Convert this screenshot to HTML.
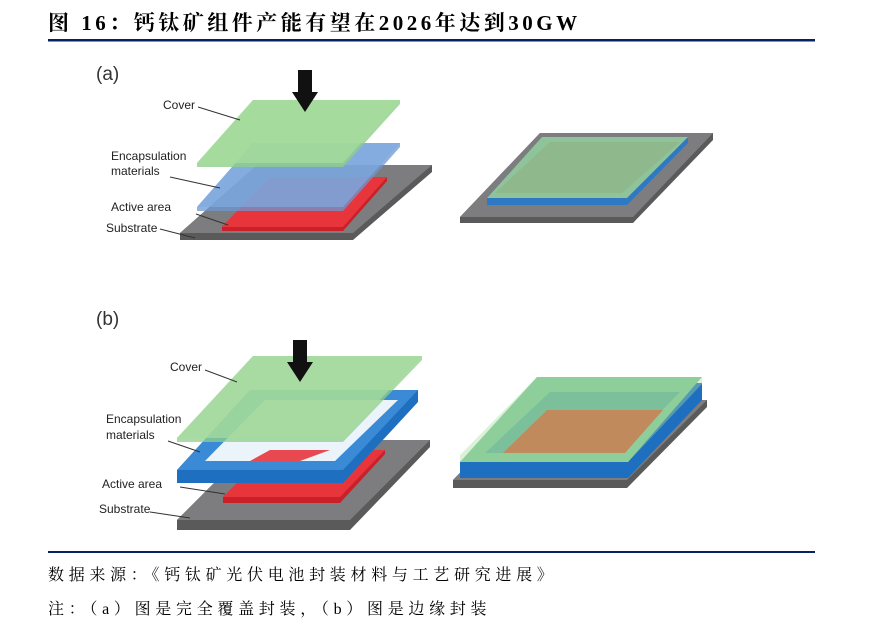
<!DOCTYPE html>
<html><head><meta charset="utf-8"><style>
html,body{margin:0;padding:0;background:#fff;}
body{width:869px;height:639px;position:relative;overflow:hidden;}
.t{position:absolute;left:48px;top:7px;font:bold 21px "Liberation Serif","Noto Serif CJK SC",serif;color:#000;white-space:nowrap;letter-spacing:3.5px}
.n{position:absolute;left:48px;font:16px "Liberation Serif","Noto Serif CJK SC",serif;color:#000;white-space:nowrap;letter-spacing:4.7px}
svg{position:absolute;left:0;top:0}
</style></head><body>
<div class="t">图 16：钙钛矿组件产能有望在2026年达到30GW</div>
<svg width="869" height="639" viewBox="0 0 869 639" font-family="Liberation Sans, sans-serif">
<rect x="48" y="39" width="767" height="2.5" fill="#0a2160"/>
<rect x="48" y="551" width="767" height="2" fill="#0a2160"/>
<g font-size="19" fill="#333"><text x="96" y="80">(a)</text><text x="96" y="325">(b)</text></g>
<polygon points="257,165 432,165 432,172 353,240 180,240 180,233" fill="#5a5a5a"/>
<polygon points="257,165 432,165 353,233 180,233" fill="#7d7c7e"/>
<polygon points="270,177 387,177 387,181 343,231 222,231 222,227" fill="#c9202a"/>
<polygon points="270,177 387,177 343,227 222,227" fill="#e8353c"/>
<polygon points="253,143 400,143 400,147 343,211 197,211 197,207" fill="#6d97d0" opacity="0.75"/>
<polygon points="253,143 400,143 343,207 197,207" fill="#7fa9e0" opacity="0.7"/>
<polygon points="253,100 400,100 400,104 343,167 197,167 197,163" fill="#8fcf8a" opacity="0.8"/>
<polygon points="253,100 400,100 343,163 197,163" fill="#a6dc9e" opacity="0.75"/>
<polygon points="298,70 312,70 312,92 318,92 305,112 292,92 298,92" fill="#111"/>
<g font-size="12" fill="#222">
<text x="163" y="109">Cover</text>
<text x="111" y="160">Encapsulation</text><text x="111" y="175">materials</text>
<text x="111" y="211">Active area</text>
<text x="106" y="232">Substrate</text></g>
<g stroke="#333" stroke-width="1" fill="none">
<line x1="198" y1="107" x2="240" y2="120"/>
<line x1="170" y1="177" x2="220" y2="188"/>
<line x1="196" y1="214" x2="228" y2="225"/>
<line x1="160" y1="229" x2="195" y2="238"/></g>
<polygon points="540,133 713,133 713,140 633,223 460,223 460,217" fill="#5a5a5a"/>
<polygon points="540,133 713,133 633,217 460,217" fill="#7d7c7e"/>
<polygon points="542,137 688,137 688,143 627,205 487,205 487,198" fill="#2f79c4"/>
<polygon points="542,137 688,137 627,198 487,198" fill="#8fc39a"/>
<polygon points="550,142 680,142 622,193 495,193" fill="#8fb587" opacity="0.7"/>
<polygon points="257,440 430,440 430,447 350,530 177,530 177,520" fill="#5a5a5a"/>
<polygon points="257,440 430,440 350,520 177,520" fill="#7d7c7e"/>
<polygon points="270,450 385,450 385,454 340,503 223,503 223,497" fill="#c9202a"/>
<polygon points="270,450 385,450 340,497 223,497" fill="#e8353c"/>
<polygon points="250,390 418,390 418,402 343,483 177,483 177,470" fill="#1f6fc0"/>
<polygon points="250,390 418,390 343,470 177,470" fill="#3a8ad6"/>
<polygon points="265,400 398,400 335,461 205,461" fill="#ffffff" opacity="0.9"/>
<polygon points="270,450 330,450 300,461 250,461" fill="#e8353c" opacity="0.9"/>
<polygon points="253,356 422,356 422,360 343,442 177,442 177,438" fill="#8fcf8a" opacity="0.75"/>
<polygon points="253,356 422,356 343,438 177,438" fill="#a6dc9e" opacity="0.7"/>
<polygon points="293,340 307,340 307,362 313,362 300,382 287,362 293,362" fill="#111"/>
<g font-size="12" fill="#222">
<text x="170" y="371">Cover</text>
<text x="106" y="423">Encapsulation</text><text x="106" y="439">materials</text>
<text x="102" y="488">Active area</text>
<text x="99" y="513">Substrate</text></g>
<g stroke="#333" stroke-width="1" fill="none">
<line x1="205" y1="370" x2="237" y2="382"/>
<line x1="168" y1="441" x2="200" y2="452"/>
<line x1="180" y1="487" x2="225" y2="494"/>
<line x1="150" y1="512" x2="190" y2="518"/></g>
<polygon points="530,400 707,400 707,407 627,488 453,488 453,480" fill="#5a5a5a"/>
<polygon points="530,400 707,400 627,480 453,480" fill="#7d7c7e"/>
<polygon points="537,383 702,383 702,400 628,478 460,478 460,462" fill="#1f6fc0"/>
<polygon points="537,377 702,377 628,462 460,462" fill="#7ec59a"/>
<polygon points="550,392 680,392 620,453 485,453" fill="#5fae98"/>
<polygon points="537,377 702,377 702,384 628,462 460,462 460,455" fill="#a6dc9e" opacity="0.4"/>
<polygon points="547,410 663,410 625,453 503,453" fill="#c08a5c"/>
</svg>
<div class="n" style="top:562px">数据来源：《钙钛矿光伏电池封装材料与工艺研究进展》</div>
<div class="n" style="top:596px">注：（a）图是完全覆盖封装，（b）图是边缘封装</div>
</body></html>
